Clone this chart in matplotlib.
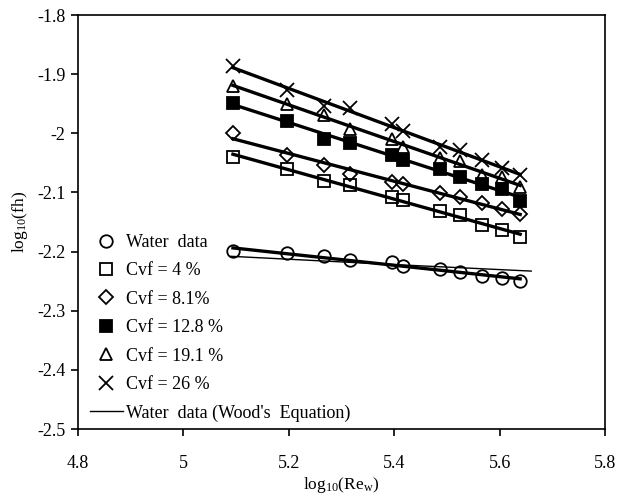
import numpy as np
import matplotlib
matplotlib.use("Agg")
import matplotlib.pyplot as plt

plt.rcParams['font.family'] = ['Liberation Serif', 'DejaVu Serif']
plt.rcParams['mathtext.fontset'] = 'custom'
plt.rcParams['mathtext.rm'] = 'Liberation Serif'
plt.rcParams['mathtext.it'] = 'Liberation Serif:italic'

# log10(Re_w) values
log_re = [5.094, 5.197, 5.267, 5.316, 5.396, 5.417, 5.487, 5.525, 5.567, 5.605, 5.639]

water = [-2.1995, -2.203, -2.208, -2.214, -2.218, -2.224, -2.229, -2.235, -2.241, -2.245, -2.249]
cvf_4 = [-2.040, -2.060, -2.080, -2.088, -2.107, -2.112, -2.132, -2.139, -2.155, -2.164, -2.175]
cvf_8_1 = [-1.999, -2.037, -2.054, -2.068, -2.083, -2.086, -2.101, -2.108, -2.118, -2.128, -2.136]
cvf_12_8 = [-1.949, -1.979, -2.009, -2.016, -2.037, -2.045, -2.060, -2.074, -2.086, -2.095, -2.114]
cvf_19_1 = [-1.920, -1.950, -1.969, -1.993, -2.009, -2.023, -2.042, -2.047, -2.071, -2.074, -2.090]
cvf_26 = [-1.886, -1.926, -1.954, -1.958, -1.984, -1.996, -2.024, -2.029, -2.045, -2.058, -2.071]

wood_x = [5.09, 5.40, 5.66]
wood_y = [-2.208, -2.222, -2.233]

labels = ["Water  data", "Cvf = 4 %", "Cvf = 8.1%", "Cvf = 12.8 %", "Cvf = 19.1 %", "Cvf = 26 %"]
series = [water, cvf_4, cvf_8_1, cvf_12_8, cvf_19_1, cvf_26]
markers = ['o', 's', 'D', 's', '^', 'x']
fills = ['none', 'none', 'none', 'black', 'none', 'none']
msizes = [9, 9, 7, 9, 9, 10]

xticks = [4.8, 5.0, 5.2, 5.4, 5.6, 5.8]
xtick_labels = ["4.8", "5", "5.2", "5.4", "5.6", "5.8"]
yticks = [-2.5, -2.4, -2.3, -2.2, -2.1, -2.0, -1.9, -1.8]
ytick_labels = ["-2.5", "-2.4", "-2.3", "-2.2", "-2.1", "-2", "-1.9", "-1.8"]

fig = plt.figure(figsize=(6.18, 4.98), dpi=100)
ax = fig.add_axes([78/618, 1-429/498, (605-78)/618, (429-15)/498])

x = np.array(log_re)
for ys, lab, m, fc, ms in zip(series, labels, markers, fills, msizes):
    ax.plot(x, ys, linestyle='none', marker=m, markersize=ms,
            markerfacecolor=fc, markeredgecolor='black', markeredgewidth=1.3,
            color='black', label=lab)
    coef = np.polyfit(x, ys, 1)
    xx = np.array([x.min(), x.max()])
    ax.plot(xx, np.polyval(coef, xx), color='black', linewidth=2.4, zorder=3)

ax.plot(wood_x, wood_y, color='black', linewidth=1.0, label="Water  data (Wood's  Equation)")

ax.set_xlim(4.8, 5.8)
ax.set_ylim(-2.5, -1.8)
ax.set_xticks(xticks)
ax.set_xticklabels(xtick_labels)
ax.set_yticks(yticks)
ax.set_yticklabels(ytick_labels)
ax.tick_params(axis='both', labelsize=13, direction='out', length=5, width=1.2, colors='black')
ax.tick_params(axis='x', pad=14)
ax.tick_params(axis='y', pad=4)
for s in ax.spines.values():
    s.set_linewidth(1.2)

ax.set_xlabel(r"log$_{10}$(Re$_{\mathrm{w}}$)", fontsize=12.5, labelpad=2)
ax.set_ylabel(r"log$_{10}$(fh)", fontsize=12.5, labelpad=5)

leg = fig.legend(loc='upper left', bbox_to_anchor=(90/618, 1-234/498), frameon=False,
                 fontsize=13, handlelength=1.8, handletextpad=0.2, labelspacing=0.63,
                 borderpad=0, borderaxespad=0, numpoints=1)

fig.savefig("out.png", dpi=100)
